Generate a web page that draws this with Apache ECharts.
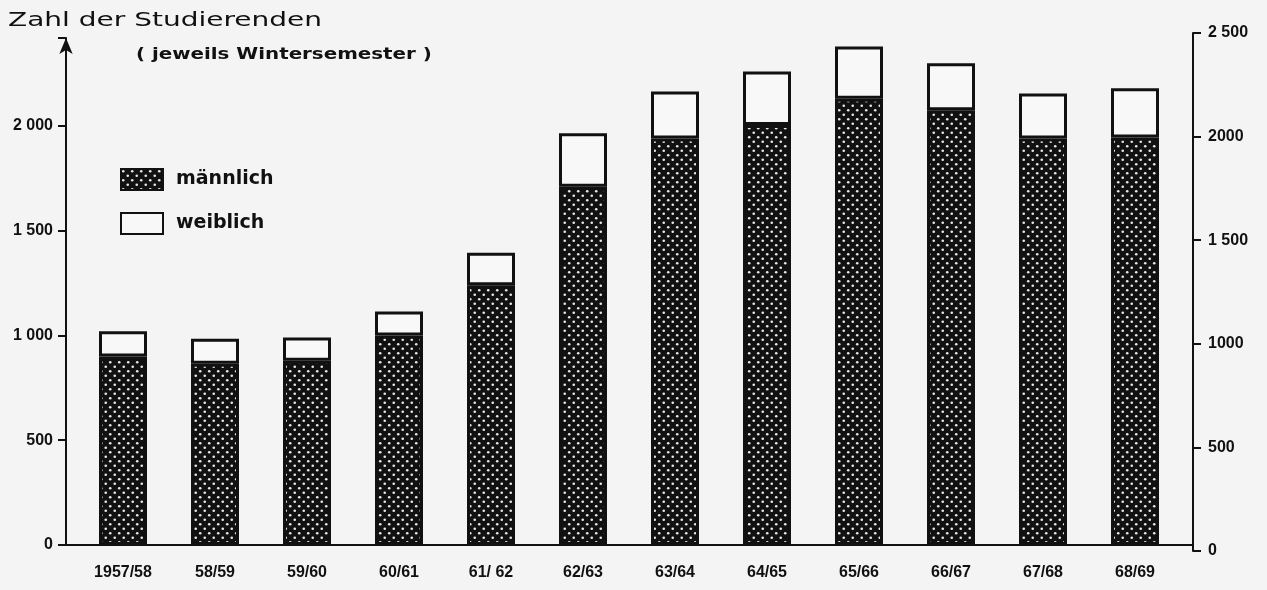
<!DOCTYPE html>
<html>
  <head>
    <meta charset="utf-8" />
    <style>
      html, body {margin: 0; padding: 0; background: #f4f4f4;}
      #chart {width: 1267px; height: 590px;}
    </style>
    <script src="https://cdn.jsdelivr.net/npm/echarts@6.0.0/dist/echarts.min.js"></script>
  </head>
  <body>
    <div id="chart"></div>
    <script type="text/javascript">
      // data
      var semesters = ['1957/58', '58/59', '59/60', '60/61', '61/ 62', '62/63',
                       '63/64', '64/65', '65/66', '66/67', '67/68', '68/69'];
      var maennlich = [900, 865, 880, 1000, 1240, 1710, 1940, 2005, 2130, 2075, 1940, 1945];
      var weiblich  = [120, 120, 110, 115, 155, 255, 225, 255, 250, 225, 215, 235];
      var leftTicks  = {0: '0', 500: '500', 1000: '1 000', 1500: '1 500', 2000: '2 000'};
      var rightTicks = {0: '0', 500: '500', 1000: '1000', 1500: '1 500', 2000: '2000', 2500: '2 500'};

      // dotted fill for the male bars
      function dots() {
        var c = document.createElement('canvas');
        c.width = 9; c.height = 9;
        var ctx = c.getContext('2d');
        ctx.fillStyle = '#111';
        ctx.fillRect(0, 0, 9, 9);
        ctx.fillStyle = '#e8e8e8';
        ctx.beginPath(); ctx.arc(2.25, 2.25, 1.3, 0, Math.PI * 2); ctx.fill();
        ctx.beginPath(); ctx.arc(6.75, 6.75, 1.3, 0, Math.PI * 2); ctx.fill();
        return {image: c, repeat: 'repeat'};
      }

      var chart = echarts.init(document.getElementById('chart'));
      var ink = '#111';
      var font = 'Liberation Sans';
      var leftMax = 2420;

      var option = {
        backgroundColor: '#f4f4f4',
        animation: false,
        graphic: [
          { type: 'text', left: 8, top: 11, scaleX: 1.4,
            style: {text: 'Zahl der Studierenden', font: 'normal 20px "DejaVu Sans"', fill: ink} },
          { type: 'text', left: 136, top: 47, scaleX: 1.24,
            style: {text: '( jeweils Wintersemester )', font: 'bold 16px "DejaVu Sans"', fill: ink} }
        ],
        legend: {
          orient: 'vertical',
          left: 115, top: 163,
          itemWidth: 42, itemHeight: 21, itemGap: 21,
          icon: 'rect',
          data: ['männlich', 'weiblich'],
          textStyle: {fontFamily: 'DejaVu Sans', fontSize: 19, fontWeight: 'bold', color: ink, padding: [0, 0, 0, 8]}
        },
        grid: [
          {left: 66, right: 74, top: 38, bottom: 45},   // left axis + base line
          {left: 66, right: 74, top: 33, bottom: 39},   // right axis
          {left: 77, right: 86, top: 38, bottom: 45}    // bars
        ],
        xAxis: [
          { gridIndex: 0, type: 'value', min: 0, max: 1,
            axisLine: {show: true, onZero: false, lineStyle: {color: ink, width: 2}},
            axisTick: {show: false}, axisLabel: {show: false}, splitLine: {show: false} },
          { gridIndex: 1, type: 'value', min: 0, max: 1, show: false },
          { gridIndex: 2, type: 'category', data: semesters,
            axisLine: {show: false}, axisTick: {show: false},
            axisLabel: {margin: 20, fontFamily: font, fontSize: 16, fontWeight: 'bold', color: ink} }
        ],
        yAxis: [
          { gridIndex: 0, type: 'value', min: 0, max: leftMax, interval: 500,
            axisLine: {show: true, onZero: false, symbol: ['none', 'arrow'], symbolSize: [10, 16],
                       lineStyle: {color: ink, width: 2}},
            axisTick: {show: true, length: 8, lineStyle: {color: ink, width: 2}},
            axisLabel: {margin: 13, fontFamily: font, fontSize: 16, fontWeight: 'bold', color: ink,
                        formatter: function (v) { return leftTicks[v] || ''; }},
            splitLine: {show: false} },
          { gridIndex: 1, type: 'value', position: 'right', min: 0, max: 2500, interval: 500,
            axisLine: {show: true, onZero: false, lineStyle: {color: ink, width: 2}},
            axisTick: {show: true, length: 8, lineStyle: {color: ink, width: 2}},
            axisLabel: {margin: 15, fontFamily: font, fontSize: 16, fontWeight: 'bold', color: ink,
                        formatter: function (v) { return rightTicks[v] || ''; }},
            splitLine: {show: false} },
          { gridIndex: 2, type: 'value', min: 0, max: leftMax, show: false }
        ],
        series: [
          { name: 'männlich', type: 'bar', stack: 'all', xAxisIndex: 2, yAxisIndex: 2,
            barWidth: 48, data: maennlich,
            itemStyle: {color: dots(), borderColor: ink, borderWidth: 3} },
          { name: 'weiblich', type: 'bar', stack: 'all', xAxisIndex: 2, yAxisIndex: 2,
            barWidth: 48, data: weiblich,
            itemStyle: {color: '#f8f8f8', borderColor: ink, borderWidth: 3} }
        ]
      };

      chart.setOption(option);
    </script>
  </body>
</html>
